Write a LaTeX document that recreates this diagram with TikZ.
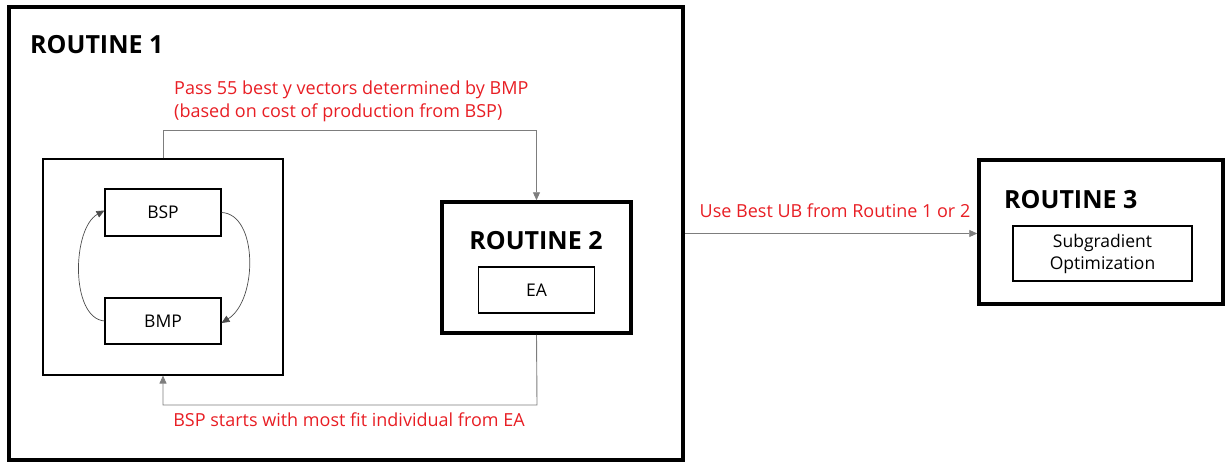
\documentclass[tikz,border=0pt]{standalone}
\usepackage{fontspec}
\setmainfont{Open Sans}
\usetikzlibrary{arrows.meta}
\definecolor{lblred}{RGB}{232,30,36}
\definecolor{conn}{RGB}{125,125,125}
\tikzset{
  thickbox/.style={draw=black, line width=3.8pt, rectangle, inner sep=0pt},
  thinbox/.style={draw=black, line width=1.1pt, rectangle, inner sep=0pt, font=\fontsize{17.5}{20}\selectfont},
  title/.style={font=\fontsize{25}{28}\selectfont\bfseries, inner sep=0pt},
  lbl/.style={text=lblred, font=\fontsize{18}{23}\selectfont, inner sep=0pt},
  conn/.style={draw=conn, line width=0.9pt},
  arr/.style={-{Triangle[width=7pt,length=8pt]}},
}
\begin{document}
\begin{tikzpicture}[x=1pt,y=-1pt]
\useasboundingbox (0,0) rectangle (1225,466);
% routine 1
\node[thickbox, minimum width=674pt, minimum height=453pt] (r1) at (346,233.5) {};
\node[title, anchor=west] (r1t) at (30,45) {ROUTINE 1};
\node[draw=black, line width=1.1pt, minimum width=240pt, minimum height=216pt, inner sep=0pt] (loop) at (163,267) {};
\node[thinbox, minimum width=116pt, minimum height=47pt] (bsp) at (163,212.5) {BSP};
\node[thinbox, minimum width=116pt, minimum height=46pt] (bmp) at (163,321) {BMP};
% routine 2
\node[thickbox, line width=3.5pt, minimum width=189pt, minimum height=131pt] (r2) at (536.5,267.5) {};
\node[title] (r2t) at (536,241) {ROUTINE 2};
\node[thinbox, minimum width=116pt, minimum height=46pt] (ea) at (536.5,290) {EA};
% routine 3
\node[thickbox, line width=3.5pt, minimum width=244pt, minimum height=144pt] (r3) at (1101,232) {};
\node[title, anchor=west] (r3t) at (1004,200) {ROUTINE 3};
\node[thinbox, minimum width=179pt, minimum height=55pt, align=center, font=\fontsize{17.5}{22}\selectfont] (sg) at (1102.5,253.5) {Subgradient\\Optimization};
% loop curves
\draw[conn, arr, draw=black!70, line width=0.7pt] (bsp.east) .. controls (258,214) and (258,300) .. ([yshift=-2pt]bmp.east);
\draw[conn, arr, draw=black!70, line width=0.7pt] (bmp.west) .. controls (70,318) and (72,228) .. ([yshift=2pt]bsp.west);
% connectors
\coordinate (topc) at (163,130);
\draw[conn, arr] (loop.north) -- (topc) -| (r2.north);
\coordinate (botc) at (537,405);
\draw[conn, arr] (r2.south) -- (botc) -| (loop.south);
\draw[conn, arr] (r1.east) -- (r1.east -| r3.west);
% labels
\node[lbl, anchor=west, align=left] (l1) at (174,101) {Pass 55 best y vectors determined by BMP\\(based on cost of production from BSP)};
\node[lbl] (l2) at (349,420) {BSP starts with most fit individual from EA};
\node[lbl] (l3) at (835,211) {Use Best UB from Routine 1 or 2};
\end{tikzpicture}
\end{document}
